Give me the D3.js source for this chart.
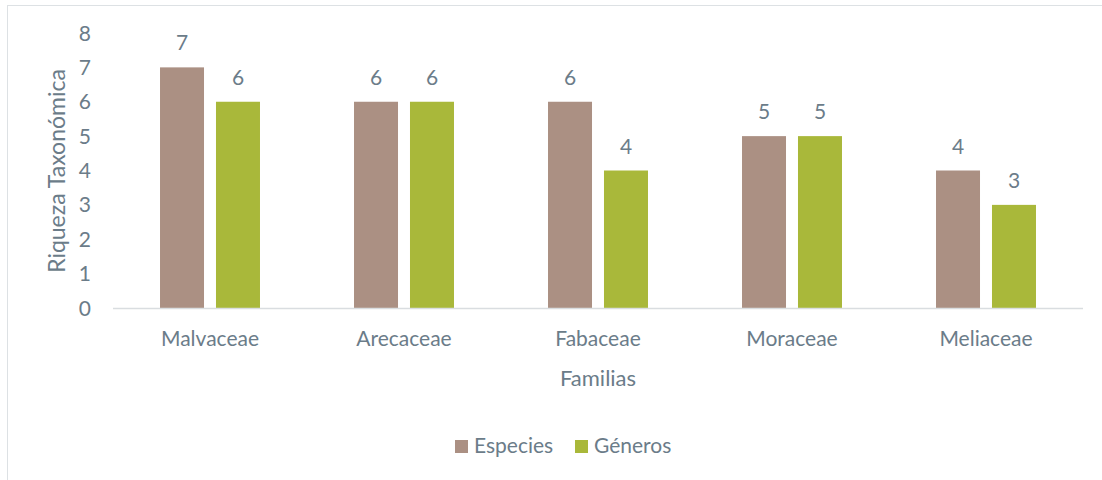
<!DOCTYPE html>
<html>
<head>
<meta charset="utf-8">
<script src="https://cdn.jsdelivr.net/npm/d3@7"></script>
<style>
  body { margin: 0; background: #fff; }
  text { font-family: Lato, "Open Sans", sans-serif; fill: #6b7c89; }
</style>
</head>
<body>
<div id="chart"></div>
<script>
var familias = ["Malvaceae", "Arecaceae", "Fabaceae", "Moraceae", "Meliaceae"];
var especies = [7, 6, 6, 5, 4];
var generos = [6, 6, 4, 5, 3];
var seriesNames = ["Especies", "Géneros"];
var yTicks = [0, 1, 2, 3, 4, 5, 6, 7, 8];

var colors = ["#ab9083", "#a9b83a"];

var width = 1102,
    height = 480;

var svg = d3.select("#chart").append("svg")
    .attr("width", width)
    .attr("height", height);

// outer frame
svg.append("rect")
    .attr("x", 7.5).attr("y", 5.5)
    .attr("width", width).attr("height", height)
    .attr("fill", "none")
    .attr("stroke", "#dde1e4");

var x = d3.scaleBand()
    .domain(familias)
    .range([113, 1083]);

var x1 = d3.scaleBand()
    .domain(seriesNames)
    .range([0, x.bandwidth()])
    .paddingInner(0.214)
    .paddingOuter(0.84);

var y = d3.scaleLinear()
    .domain([0, 8])
    .range([308, 33]);

var data = familias.map(function (f, i) {
    return { familia: f, values: [especies[i], generos[i]] };
});

// y tick labels
svg.append("g")
    .selectAll("text")
    .data(yTicks)
    .enter().append("text")
    .attr("x", 91)
    .attr("y", function (d) { return y(d); })
    .attr("dy", "0.36em")
    .attr("text-anchor", "end")
    .attr("font-size", 21)
    .text(function (d) { return d; });

var groups = svg.selectAll(".grp")
    .data(data)
    .enter().append("g")
    .attr("class", "grp")
    .attr("transform", function (d) { return "translate(" + x(d.familia) + ",0)"; });

groups.selectAll("rect")
    .data(function (d) { return d.values; })
    .enter().append("rect")
    .attr("x", function (d, i) { return x1(seriesNames[i]); })
    .attr("y", function (d) { return y(d); })
    .attr("width", x1.bandwidth())
    .attr("height", function (d) { return y(0) - y(d); })
    .attr("fill", function (d, i) { return colors[i]; });

groups.selectAll(".lbl")
    .data(function (d) { return d.values; })
    .enter().append("text")
    .attr("class", "lbl")
    .attr("x", function (d, i) { return x1(seriesNames[i]) + x1.bandwidth() / 2; })
    .attr("y", function (d) { return y(d) - 17; })
    .attr("text-anchor", "middle")
    .attr("font-size", 21)
    .text(function (d) { return d; });

// x axis line
svg.append("line")
    .attr("x1", 113).attr("x2", 1083)
    .attr("y1", y(0) + 0.5).attr("y2", y(0) + 0.5)
    .attr("stroke", "#d9dde0")
    .attr("stroke-width", 1.5);

// category labels
svg.append("g")
    .selectAll("text")
    .data(familias)
    .enter().append("text")
    .attr("x", function (d) { return x(d) + x.bandwidth() / 2; })
    .attr("y", 346)
    .attr("text-anchor", "middle")
    .attr("font-size", 21)
    .text(function (d) { return d; });

// axis titles
svg.append("text")
    .attr("x", 598)
    .attr("y", 386)
    .attr("text-anchor", "middle")
    .attr("font-size", 22)
    .text("Familias");

svg.append("text")
    .attr("transform", "translate(65,171) rotate(-90)")
    .attr("text-anchor", "middle")
    .attr("font-size", 23)
    .text("Riqueza Taxonómica");

// legend
var legend = svg.append("g");
var legX = [455, 575];
seriesNames.forEach(function (s, i) {
    legend.append("rect")
        .attr("x", legX[i]).attr("y", 440)
        .attr("width", 13).attr("height", 13)
        .attr("fill", colors[i]);
    legend.append("text")
        .attr("x", legX[i] + 19)
        .attr("y", 453)
        .attr("font-size", 21)
        .text(s);
});
</script>
</body>
</html>
